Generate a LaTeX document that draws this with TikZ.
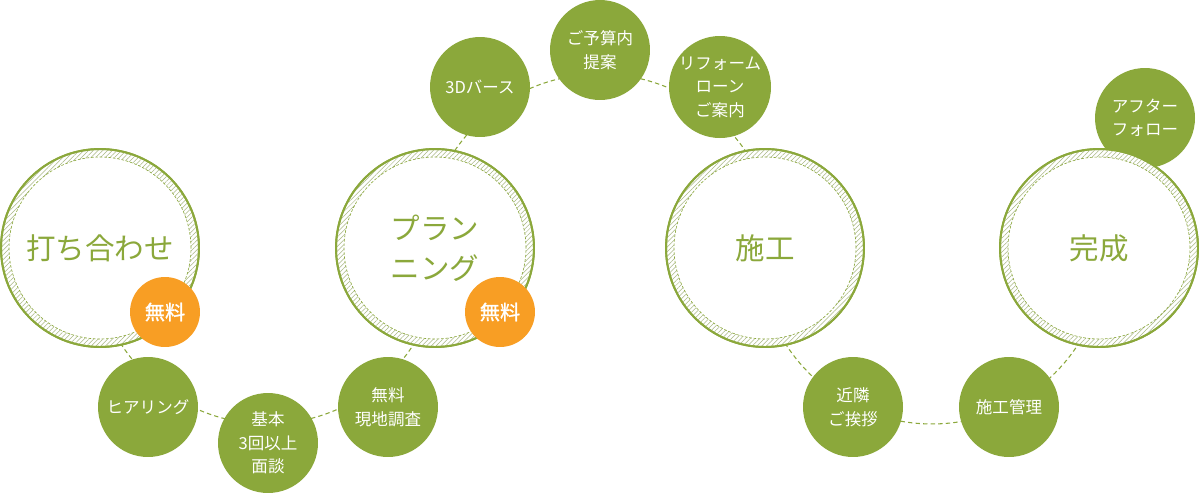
\documentclass[tikz,border=0pt]{standalone}
\usepackage{fontspec}
\setmainfont{Noto Sans CJK JP}
\usetikzlibrary{patterns.meta}
\definecolor{leaf}{HTML}{8BA83B}
\definecolor{orng}{HTML}{F89E24}
\definecolor{hatchc}{HTML}{A9B784}
\tikzset{
  bigring/.style={circle, draw=leaf, line width=1.1pt, fill=white, minimum size=3.96cm,
    inner sep=0pt, text=leaf, font=\fontsize{16.8}{22.5}\selectfont, align=center},
  smallstep/.style={circle, fill=leaf, minimum size=2cm, inner sep=0pt, text=white,
    font=\fontsize{9.4}{13.4}\selectfont, align=center},
  freebadge/.style={circle, fill=orng, minimum size=1.4cm, inner sep=0pt, text=white,
    font=\fontsize{11.5}{12}\selectfont\addfontfeature{FakeBold=1.2}},
  linkarc/.style={draw=leaf, line width=0.6pt, dash pattern=on 2.5pt off 1.8pt},
  innerdash/.style={draw=leaf, line width=0.35pt, dash pattern=on 1.5pt off 1pt},
  hatchband/.style={pattern={Lines[angle=45,distance=1.9pt,line width=0.3pt]}, pattern color=hatchc, even odd rule},
}
\newcommand{\ringdeco}[1]{%
  \path[hatchband] (#1) circle[radius=1.96cm] (#1) circle[radius=1.82cm];
  \draw[innerdash] (#1) circle[radius=1.82cm];
  \draw[leaf, line width=1.1pt] (#1) circle[radius=1.98cm];
}
\begin{document}
\begin{tikzpicture}[x=0.02cm,y=0.02cm]
\useasboundingbox (0,0) rectangle (1200,-494);
\fill[white] (0,0) rectangle (1200,-494);
% arc centres
\coordinate (arcA) at (267.5,-250);
\coordinate (arcB) at (600,-250);
\coordinate (arcC) at (932,-250);
% connecting dashed arcs
\draw[linkarc] (arcA) ++(-174,0) arc[start angle=180, end angle=360, radius=3.48cm];
\draw[linkarc] (arcB) ++(-176,0) arc[start angle=180, end angle=0, radius=3.52cm];
\draw[linkarc] (arcC) ++(-174,0) arc[start angle=180, end angle=360, radius=3.48cm];
% small step circles
\node[smallstep] (hear) at (148,-407) {ヒアリング};
\node[smallstep] (kihon) at (268,-443) {基本\\3回以上\\面談};
\node[smallstep] (genchi) at (388,-407) {無料\\現地調査};
\node[smallstep] (cg) at (480,-87) {3Dバース};
\node[smallstep] (yosan) at (600,-50) {ご予算内\\提案};
\node[smallstep] (loan) at (720,-87) {リフォーム\\ローン\\ご案内};
\node[smallstep] (kinrin) at (853,-407) {近隣\\ご挨拶};
\node[smallstep] (kanri) at (1009,-407) {施工管理};
\node[smallstep] (after) at (1145,-118) {アフター\\フォロー};
% big circles
\node[bigring] (meet) at (100,-248) {打ち合わせ};
\ringdeco{meet}
\node[bigring] (plan) at (435,-248) {プラン\\ニング};
\ringdeco{plan}
\node[bigring] (build) at (765,-248) {施工};
\ringdeco{build}
\node[bigring] (done) at (1099,-248) {完成};
\ringdeco{done}
% free badges
\node[freebadge] (free1) at (165,-312) {無料};
\node[freebadge] (free2) at (500,-312) {無料};
\end{tikzpicture}
\end{document}
